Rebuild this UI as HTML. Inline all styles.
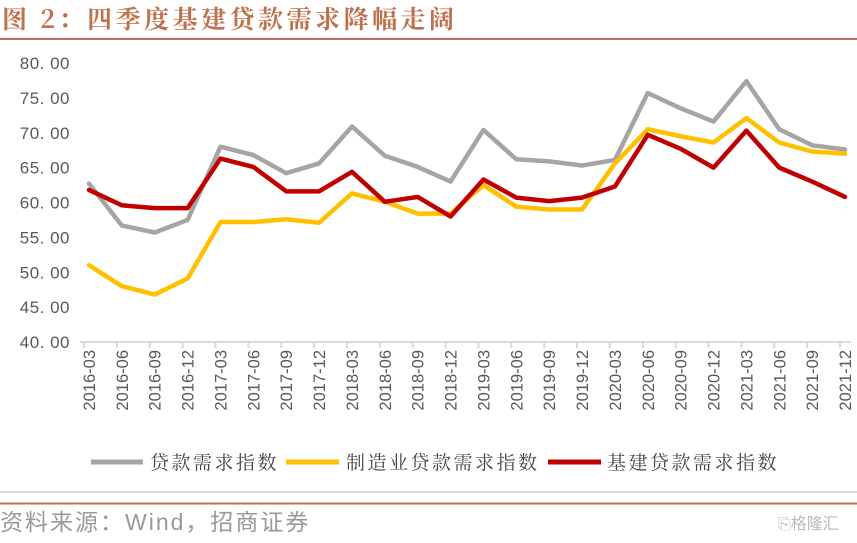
<!DOCTYPE html>
<html><head><meta charset="utf-8"><style>
body{margin:0;background:#fff;width:857px;height:538px;overflow:hidden;font-family:"Liberation Sans","Noto Sans CJK SC",sans-serif}
</style></head><body>
<svg width="857" height="538">
<text x="2" y="28" font-family="'Noto Serif CJK SC',serif" font-size="25" font-weight="bold" letter-spacing="3.5" fill="#c0704c">图 2：四季度基建贷款需求降幅走阔</text>
<line x1="0" y1="39" x2="857" y2="39" stroke="#c0704c" stroke-width="2"/>
<g id="yaxis"></g>
<g id="xaxis"></g>
<g id="series"></g>
<g font-family="'Noto Serif CJK SC',serif" font-size="19" letter-spacing="2.5" fill="#444">
<line x1="91" y1="462" x2="143" y2="462" stroke="#a5a5a5" stroke-width="5"/>
<text x="150" y="469">贷款需求指数</text>
<line x1="286" y1="462" x2="339" y2="462" stroke="#ffc000" stroke-width="5"/>
<text x="346" y="469">制造业贷款需求指数</text>
<line x1="548" y1="462" x2="601" y2="462" stroke="#c00000" stroke-width="5"/>
<text x="607" y="469">基建贷款需求指数</text>
</g>
<line x1="0" y1="492" x2="857" y2="492" stroke="#d9d9d9" stroke-width="2"/>
<line x1="0" y1="503.5" x2="857" y2="503.5" stroke="#c0704c" stroke-width="2"/>
<text x="0" y="530" font-size="23" letter-spacing="2" fill="#999" font-family="'Liberation Sans','Noto Sans CJK SC',sans-serif">资料来源：Wind，招商证券</text>
<text x="778" y="529" font-size="16" fill="#bbb" font-family="'Liberation Sans','Noto Sans CJK SC',sans-serif">⎘格隆汇</text>
</svg>
<script>
const categories=["2016-03","2016-06","2016-09","2016-12","2017-03","2017-06","2017-09","2017-12","2018-03","2018-06","2018-09","2018-12","2019-03","2019-06","2019-09","2019-12","2020-03","2020-06","2020-09","2020-12","2021-03","2021-06","2021-09","2021-12"];
const loanIndex=[62.7,56.7,55.7,57.5,68.0,66.8,64.2,65.6,70.9,66.7,65.1,63.0,70.4,66.2,65.9,65.3,66.1,75.7,73.5,71.6,77.4,70.5,68.2,67.6];
const mfgIndex=[51.0,48.0,46.8,49.1,57.2,57.2,57.6,57.1,61.3,60.1,58.4,58.4,62.5,59.4,59.0,59.0,65.6,70.5,69.5,68.6,72.1,68.6,67.3,67.0];
const infraIndex=[61.8,59.6,59.2,59.2,66.3,65.1,61.6,61.6,64.4,60.1,60.8,58.0,63.3,60.7,60.2,60.7,62.3,69.7,67.7,65.0,70.3,65.0,63.0,60.8];
const yTicks=[40,45,50,55,60,65,70,75,80];
const NS="http://www.w3.org/2000/svg";
const x0=89,x1=845,yTop=63,yBot=342,vMin=40,vMax=80;
function xs(i){return x0+(x1-x0)*i/(categories.length-1);}
function ys(v){return yBot-(v-vMin)/(vMax-vMin)*(yBot-yTop);}
function mk(tag,attrs,parent){const e=document.createElementNS(NS,tag);for(const k in attrs)e.setAttribute(k,attrs[k]);parent.appendChild(e);return e;}
const ya=document.getElementById('yaxis');
yTicks.forEach(v=>{const t=mk('text',{x:70,y:ys(v)+6,'text-anchor':'end','font-size':17,fill:'#595959','letter-spacing':'0.5'},ya);


t.textContent=v.toFixed(2).replace('.','. ');});
const xa=document.getElementById('xaxis');
const ax=mk('line',{x1:80,y1:yBot,x2:851,y2:yBot,stroke:'#d9d9d9','stroke-width':2},xa);


categories.forEach((c,i)=>{
const tk=mk('line',{x1:xs(i)-5,y1:yBot,x2:xs(i)-5,y2:yBot+6,stroke:'#d9d9d9','stroke-width':2},xa);


const t=mk('text',{x:0,y:0,'text-anchor':'end','font-size':16.5,fill:'#595959',transform:`translate(${xs(i)+6},350) rotate(-90)`},xa);


t.textContent=c;});
const sg=document.getElementById('series');
[[loanIndex,'#a5a5a5','loan-demand-line'],[mfgIndex,'#ffc000','manufacturing-loan-line'],[infraIndex,'#c00000','infrastructure-loan-line']].forEach(([d,col,name])=>{
const p=mk('polyline',{points:d.map((v,i)=>xs(i)+','+ys(v)).join(' '),fill:'none',stroke:col,'stroke-width':4.5,'stroke-linejoin':'round','stroke-linecap':'round'},sg);

});
</script>
</body></html>
